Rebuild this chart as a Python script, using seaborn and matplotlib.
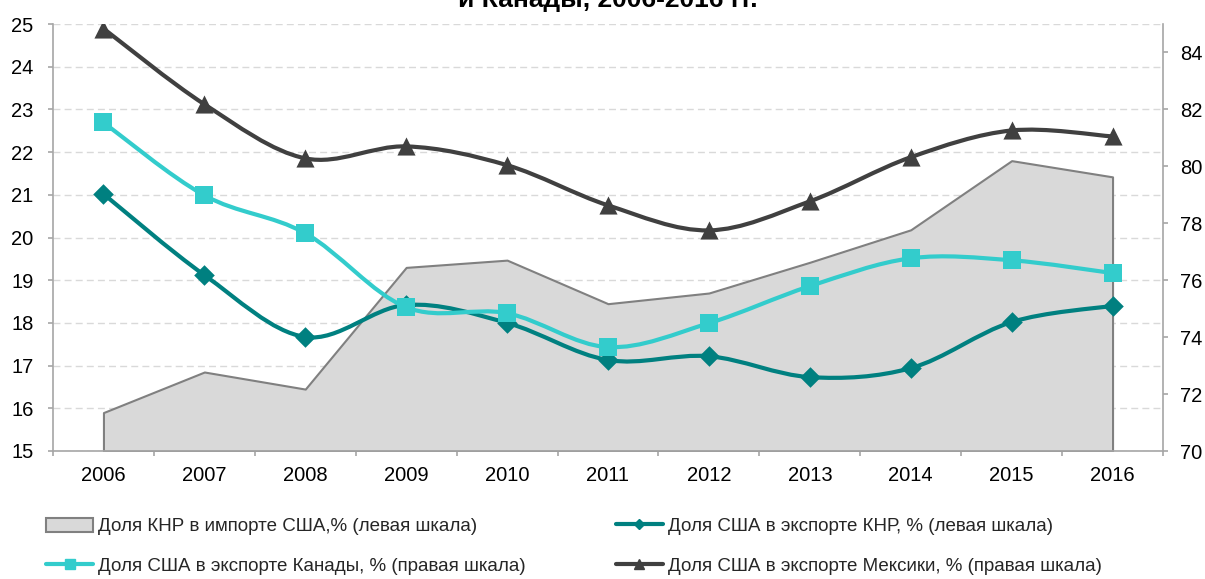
import numpy as np
import pandas as pd
import matplotlib
matplotlib.use("Agg")
import matplotlib.pyplot as plt
from matplotlib.path import Path
from matplotlib.patches import PathPatch, Patch
from matplotlib.lines import Line2D
import seaborn as sns

years = ["2006", "2007", "2008", "2009", "2010", "2011", "2012", "2013", "2014", "2015", "2016"]
china_share_us_imports = [15.9, 16.85, 16.45, 19.3, 19.47, 18.45, 18.7, 19.42, 20.18, 21.8, 21.42]
us_share_china_exports = [21.02, 19.12, 17.67, 18.42, 18.0, 17.13, 17.22, 16.73, 16.94, 18.02, 18.4]
us_share_canada_exports = [81.54, 78.98, 77.65, 75.05, 74.84, 73.65, 74.49, 75.79, 76.77, 76.7, 76.25]
us_share_mexico_exports = [84.84, 82.18, 80.28, 80.7, 80.04, 78.63, 77.75, 78.77, 80.32, 81.26, 81.05]

labels = [
    "Доля КНР в импорте США,% (левая шкала)",
    "Доля США в экспорте КНР, % (левая шкала)",
    "Доля США в экспорте Канады, % (правая шкала)",
    "Доля США в экспорте Мексики, % (правая шкала)",
]
title_tail = "и Канады, 2006-2016 гг."

sns.set_theme(style="white")
plt.rcParams["font.family"] = ["Liberation Sans", "DejaVu Sans"]

C_AREA, C_AREA_EDGE = "#d9d9d9", "#808080"
C_TEAL, C_CYAN, C_DARK = "#008080", "#33cccc", "#404040"
C_AXIS = "#a6a6a6"

x = np.arange(len(years))
df = pd.DataFrame({"x": x, "year": years, "imp": china_share_us_imports,
                   "cn": us_share_china_exports, "ca": us_share_canada_exports,
                   "mx": us_share_mexico_exports})

fig = plt.figure(figsize=(12.05, 5.79), dpi=100)
ax = fig.add_axes([53 / 1205, 1 - 451 / 579, (1163 - 53) / 1205, (451 - 24) / 579])
ax2 = ax.twinx()


def smooth_path(xs, ys):
    xs = np.asarray(xs, float)
    ys = np.asarray(ys, float)
    pts = np.column_stack([xs, ys])
    n = len(pts)
    verts = [pts[0]]
    codes = [Path.MOVETO]
    for i in range(n - 1):
        p0 = pts[i - 1] if i > 0 else pts[i]
        p1 = pts[i]
        p2 = pts[i + 1]
        p3 = pts[i + 2] if i + 2 < n else pts[i + 1]
        c1 = p1 + (p2 - p0) / 6.0
        c2 = p2 - (p3 - p1) / 6.0
        verts += [c1, c2, p2]
        codes += [Path.CURVE4] * 3
    return Path(verts, codes)


# area
ax.fill_between(df["x"], 15, df["imp"], facecolor=C_AREA, edgecolor=C_AREA_EDGE,
                linewidth=1.5, zorder=1)

# smoothed lines
ax.add_patch(PathPatch(smooth_path(df["x"], df["cn"]), facecolor="none",
                       edgecolor=C_TEAL, linewidth=3, zorder=3, capstyle="round"))
sns.scatterplot(data=df, x="x", y="cn", ax=ax, marker="D", s=110, color=C_TEAL,
                edgecolor=C_TEAL, linewidth=0, zorder=4)

ax2.add_patch(PathPatch(smooth_path(df["x"], df["ca"]), facecolor="none",
                        edgecolor=C_CYAN, linewidth=3, zorder=3, capstyle="round"))
sns.scatterplot(data=df, x="x", y="ca", ax=ax2, marker="s", s=150, color=C_CYAN,
                edgecolor=C_CYAN, linewidth=0, zorder=4)
ax2.add_patch(PathPatch(smooth_path(df["x"], df["mx"]), facecolor="none",
                        edgecolor=C_DARK, linewidth=3, zorder=3, capstyle="round"))
sns.scatterplot(data=df, x="x", y="mx", ax=ax2, marker="^", s=170, color=C_DARK,
                edgecolor=C_DARK, linewidth=0, zorder=4)

# axes settings
ax.set_xlim(-0.5, len(years) - 0.5)
ax.set_ylim(15, 25)
ax2.set_ylim(70, 85)
ax.set_yticks(range(15, 26))
ax2.set_yticks(range(70, 85, 2))
ax.set_xticks(x)
ax.set_xticklabels(years)
ax.set_xticks(np.arange(-0.5, len(years), 1), minor=True)
ax.set_xlabel("")
ax.set_ylabel("")
ax2.set_ylabel("")

ax.yaxis.grid(True, color="#d9d9d9", linestyle=(0, (5, 3)), linewidth=1)
ax.set_axisbelow(True)
ax.patch.set_visible(False)
ax2.set_zorder(ax.get_zorder() + 1)
ax2.patch.set_visible(False)
ax.set_zorder(0)

for a in (ax, ax2):
    a.spines["top"].set_visible(False)
    for s in ("left", "right", "bottom"):
        a.spines[s].set_color(C_AXIS)
        a.spines[s].set_linewidth(1.2)
ax.spines["right"].set_visible(False)
ax2.spines["left"].set_visible(False)
ax2.spines["bottom"].set_visible(False)

FS = 14.5
ax.tick_params(axis="y", which="major", left=True, length=3.6, width=1.2, color=C_AXIS,
               labelsize=FS, labelcolor="black", pad=10.5)
ax.tick_params(axis="x", which="major", bottom=False, length=0, labelsize=FS,
               labelcolor="black", pad=11)
ax.tick_params(axis="x", which="minor", bottom=True, length=3.6, width=1.2, color=C_AXIS)
ax2.tick_params(axis="y", right=True, length=3.6, width=1.2, color=C_AXIS,
                labelsize=FS, labelcolor="black", pad=8.5)

# title (only the last line visible, clipped at top as in the reference)
fig.text(0.504, 1 - 7 / 579, title_tail, ha="center", va="baseline", fontsize=19,
         fontweight="bold", color="black")

# legend
handles = [
    Patch(facecolor=C_AREA, edgecolor=C_AREA_EDGE, linewidth=1.5),
    Line2D([], [], color=C_CYAN, linewidth=3, marker="s", markersize=7),
    Line2D([], [], color=C_TEAL, linewidth=3, marker="D", markersize=5),
    Line2D([], [], color=C_DARK, linewidth=3, marker="^", markersize=7),
]
leg_labels = [labels[0], labels[2], labels[1], labels[3]]
fig.legend(handles, leg_labels, loc="lower left", bbox_to_anchor=(0.0245, -0.022),
           ncol=2, frameon=False, fontsize=13.5, handlelength=2.5, handleheight=0.8,
           handletextpad=0.27, columnspacing=4.8, labelspacing=1.17)

fig.savefig("out.png", dpi=100)
